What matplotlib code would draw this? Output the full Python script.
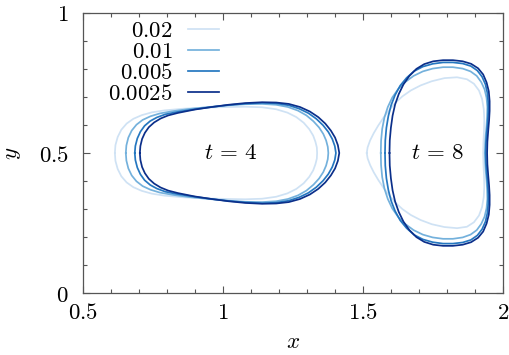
import matplotlib
matplotlib.use("Agg")
import matplotlib.pyplot as plt
from matplotlib.ticker import MultipleLocator, FixedLocator, FuncFormatter

plt.rcParams['mathtext.fontset'] = 'cm'
plt.rcParams['font.family'] = ['DejaVu Serif']

labels = ["0.02", "0.01", "0.005", "0.0025"]
colors = ["#cfe2f4", "#74b1dc", "#2577c0", "#0b2f8a"]

# ---- t = 4 interface shapes (closed curves), one per grid spacing ----
t4_x_002 = [0.615, 0.617, 0.625, 0.638, 0.657, 0.681, 0.711, 0.747, 0.792, 0.860, 0.940, 1.020, 1.080, 1.140,
            1.190, 1.230, 1.262, 1.288, 1.308, 1.322, 1.330, 1.335, 1.336,
            1.335, 1.330, 1.322, 1.308, 1.288, 1.262, 1.230, 1.190, 1.140, 1.080, 1.020, 0.940, 0.860, 0.792,
            0.747, 0.711, 0.681, 0.657, 0.638, 0.625, 0.617]
t4_y_002 = [0.500, 0.528, 0.557, 0.583, 0.605, 0.622, 0.635, 0.645, 0.652, 0.658, 0.662, 0.664, 0.665, 0.663,
            0.656, 0.644, 0.628, 0.608, 0.585, 0.562, 0.540, 0.520, 0.500,
            0.480, 0.460, 0.438, 0.415, 0.392, 0.372, 0.356, 0.344, 0.337, 0.335, 0.336, 0.338, 0.342, 0.348,
            0.355, 0.365, 0.378, 0.395, 0.417, 0.443, 0.472]
t4_x_001 = [0.654, 0.656, 0.663, 0.675, 0.692, 0.714, 0.742, 0.775, 0.820, 0.880, 0.950, 1.020, 1.080, 1.140,
            1.190, 1.232, 1.268, 1.298, 1.323, 1.343, 1.358, 1.368, 1.374, 1.376,
            1.374, 1.368, 1.358, 1.343, 1.323, 1.298, 1.268, 1.232, 1.190, 1.140, 1.080, 1.020, 0.950, 0.880,
            0.820, 0.775, 0.742, 0.714, 0.692, 0.675, 0.663, 0.656]
t4_y_001 = [0.500, 0.527, 0.555, 0.580, 0.601, 0.618, 0.631, 0.641, 0.649, 0.657, 0.664, 0.670, 0.674, 0.675,
            0.672, 0.664, 0.651, 0.634, 0.613, 0.591, 0.568, 0.545, 0.522, 0.500,
            0.478, 0.455, 0.432, 0.409, 0.387, 0.366, 0.349, 0.336, 0.328, 0.325, 0.326, 0.330, 0.336, 0.343,
            0.351, 0.359, 0.369, 0.382, 0.399, 0.420, 0.445, 0.473]
t4_x_0005 = [0.686, 0.688, 0.695, 0.706, 0.721, 0.741, 0.765, 0.795, 0.835, 0.900, 0.960, 1.020, 1.080, 1.140,
             1.190, 1.235, 1.272, 1.305, 1.333, 1.357, 1.376, 1.390, 1.399, 1.403,
             1.399, 1.390, 1.376, 1.357, 1.333, 1.305, 1.272, 1.235, 1.190, 1.140, 1.080, 1.020, 0.960, 0.900,
             0.835, 0.795, 0.765, 0.741, 0.721, 0.706, 0.695, 0.688]
t4_y_0005 = [0.500, 0.525, 0.552, 0.576, 0.597, 0.614, 0.627, 0.638, 0.646, 0.656, 0.664, 0.671, 0.676, 0.679,
             0.677, 0.670, 0.658, 0.642, 0.622, 0.599, 0.575, 0.550, 0.525, 0.500,
             0.475, 0.450, 0.425, 0.401, 0.378, 0.358, 0.342, 0.330, 0.323, 0.321, 0.324, 0.329, 0.336, 0.344,
             0.354, 0.362, 0.373, 0.386, 0.403, 0.424, 0.448, 0.475]
t4_x_00025 = [0.704, 0.706, 0.712, 0.722, 0.736, 0.755, 0.778, 0.805, 0.840, 0.900, 0.960, 1.020, 1.080, 1.140,
              1.190, 1.235, 1.275, 1.310, 1.340, 1.365, 1.385, 1.400, 1.410, 1.415,
              1.410, 1.400, 1.385, 1.365, 1.340, 1.310, 1.275, 1.235, 1.190, 1.140, 1.080, 1.020, 0.960, 0.900,
              0.840, 0.805, 0.778, 0.755, 0.736, 0.722, 0.712, 0.706]
t4_y_00025 = [0.500, 0.525, 0.550, 0.572, 0.592, 0.609, 0.623, 0.634, 0.643, 0.655, 0.664, 0.672, 0.678, 0.681,
              0.680, 0.675, 0.664, 0.648, 0.628, 0.605, 0.580, 0.555, 0.528, 0.500,
              0.472, 0.445, 0.420, 0.395, 0.372, 0.352, 0.336, 0.325, 0.320, 0.319, 0.322, 0.328, 0.336, 0.345,
              0.357, 0.366, 0.377, 0.391, 0.408, 0.428, 0.450, 0.475]

# ---- t = 8 interface shapes ----
t8_x_002 = [1.513, 1.516, 1.525, 1.538, 1.554, 1.572, 1.592, 1.614, 1.640, 1.670, 1.705, 1.745, 1.790, 1.835,
            1.870, 1.895, 1.913, 1.924, 1.930, 1.932, 1.931, 1.929, 1.928,
            1.929, 1.931, 1.932, 1.930, 1.924, 1.913, 1.895, 1.870, 1.835, 1.790, 1.745, 1.705, 1.670, 1.640,
            1.614, 1.592, 1.572, 1.554, 1.538, 1.525, 1.516]
t8_y_002 = [0.500, 0.520, 0.545, 0.571, 0.598, 0.625, 0.652, 0.678, 0.702, 0.723, 0.741, 0.756, 0.767, 0.770,
            0.763, 0.747, 0.723, 0.693, 0.657, 0.620, 0.580, 0.540, 0.500,
            0.460, 0.420, 0.380, 0.343, 0.307, 0.277, 0.253, 0.237, 0.232, 0.236, 0.246, 0.261, 0.279, 0.300,
            0.324, 0.350, 0.377, 0.404, 0.431, 0.457, 0.481]
t8_x_001 = [1.563, 1.564, 1.568, 1.576, 1.588, 1.604, 1.625, 1.650, 1.680, 1.713, 1.748, 1.785, 1.820, 1.855,
            1.883, 1.905, 1.921, 1.933, 1.940, 1.943, 1.942, 1.940, 1.937, 1.935, 1.934,
            1.935, 1.937, 1.940, 1.942, 1.943, 1.940, 1.933, 1.921, 1.905, 1.883, 1.855, 1.820, 1.785, 1.748,
            1.713, 1.680, 1.650, 1.625, 1.604, 1.588, 1.576, 1.568, 1.564]
t8_y_001 = [0.500, 0.543, 0.586, 0.627, 0.664, 0.698, 0.728, 0.753, 0.775, 0.791, 0.801, 0.806, 0.806, 0.801,
            0.791, 0.775, 0.753, 0.727, 0.697, 0.664, 0.630, 0.597, 0.564, 0.532, 0.500,
            0.468, 0.436, 0.403, 0.370, 0.336, 0.303, 0.273, 0.247, 0.225, 0.209, 0.199, 0.194, 0.194, 0.199,
            0.209, 0.225, 0.247, 0.272, 0.302, 0.336, 0.373, 0.414, 0.457]
t8_x_0005 = [1.578, 1.579, 1.583, 1.590, 1.600, 1.614, 1.632, 1.655, 1.682, 1.713, 1.748, 1.785, 1.820, 1.855,
             1.884, 1.907, 1.924, 1.936, 1.943, 1.946, 1.946, 1.944, 1.941, 1.938, 1.937,
             1.938, 1.941, 1.944, 1.946, 1.946, 1.943, 1.936, 1.924, 1.907, 1.884, 1.855, 1.820, 1.785, 1.748,
             1.713, 1.682, 1.655, 1.632, 1.614, 1.600, 1.590, 1.583, 1.579]
t8_y_0005 = [0.500, 0.545, 0.590, 0.632, 0.671, 0.707, 0.740, 0.768, 0.792, 0.808, 0.818, 0.823, 0.823, 0.819,
             0.810, 0.794, 0.772, 0.745, 0.714, 0.680, 0.645, 0.610, 0.575, 0.538, 0.500,
             0.462, 0.425, 0.390, 0.355, 0.320, 0.286, 0.255, 0.228, 0.206, 0.190, 0.181, 0.177, 0.177, 0.182,
             0.192, 0.208, 0.232, 0.260, 0.293, 0.329, 0.368, 0.410, 0.455]
t8_x_00025 = [1.594, 1.595, 1.599, 1.605, 1.614, 1.627, 1.644, 1.665, 1.690, 1.718, 1.750, 1.785, 1.820, 1.855,
              1.885, 1.910, 1.928, 1.940, 1.948, 1.951, 1.951, 1.949, 1.946, 1.943, 1.942,
              1.943, 1.946, 1.949, 1.951, 1.951, 1.948, 1.940, 1.928, 1.910, 1.885, 1.855, 1.820, 1.785, 1.750,
              1.718, 1.690, 1.665, 1.644, 1.627, 1.614, 1.605, 1.599, 1.595]
t8_y_00025 = [0.500, 0.545, 0.590, 0.633, 0.673, 0.710, 0.745, 0.775, 0.800, 0.817, 0.827, 0.831, 0.831, 0.827,
              0.818, 0.802, 0.780, 0.752, 0.720, 0.685, 0.650, 0.615, 0.580, 0.540, 0.500,
              0.460, 0.420, 0.385, 0.350, 0.315, 0.280, 0.248, 0.220, 0.198, 0.182, 0.173, 0.169, 0.169, 0.173,
              0.183, 0.200, 0.225, 0.255, 0.290, 0.327, 0.367, 0.410, 0.455]

t4_curves = [(t4_x_002, t4_y_002), (t4_x_001, t4_y_001), (t4_x_0005, t4_y_0005), (t4_x_00025, t4_y_00025)]
t8_curves = [(t8_x_002, t8_y_002), (t8_x_001, t8_y_001), (t8_x_0005, t8_y_0005), (t8_x_00025, t8_y_00025)]

FS = 16.5

fig = plt.figure(figsize=(5.10, 3.55), dpi=100)
ax = fig.add_axes([0.162, 0.174, 0.825, 0.790])

for (xs, ys), (xs8, ys8), c, lab in zip(t4_curves, t8_curves, colors, labels):
    ax.plot(list(xs) + [xs[0]], list(ys) + [ys[0]], color=c, lw=1.25, label=r'$%s$' % lab,
            solid_joinstyle='round')
    ax.plot(list(xs8) + [xs8[0]], list(ys8) + [ys8[0]], color=c, lw=1.25, solid_joinstyle='round')

ax.text(1.03, 0.5, r'$t\,=\,4$', fontsize=FS, ha='center', va='center')
ax.text(1.765, 0.5, r'$t\,=\,8$', fontsize=FS, ha='center', va='center')

ax.set_xlim(0.5, 2.0)
ax.set_ylim(0.0, 1.0)
ax.xaxis.set_major_locator(FixedLocator([0.5, 1.0, 1.5, 2.0]))
ax.yaxis.set_major_locator(FixedLocator([0.0, 0.5, 1.0]))
ax.xaxis.set_minor_locator(MultipleLocator(0.1))
ax.yaxis.set_minor_locator(MultipleLocator(0.1))
fmt = FuncFormatter(lambda v, p: r'$%g$' % round(v, 3))
ax.xaxis.set_major_formatter(fmt)
ax.yaxis.set_major_formatter(fmt)
ax.tick_params(which='both', direction='in', top=True, right=True, colors='#555555', labelcolor='black',
               labelsize=FS)
ax.tick_params(which='major', length=5, width=0.8)
ax.tick_params(which='minor', length=3, width=0.8)
ax.tick_params(axis='x', pad=6)
ax.tick_params(axis='y', pad=10)
for s in ax.spines.values():
    s.set_color('#555555')
    s.set_linewidth(0.9)

ax.set_xlabel(r'$x$', fontsize=FS, labelpad=5)
ax.set_ylabel(r'$y$', fontsize=FS, labelpad=11)

ax.legend(loc='upper left', bbox_to_anchor=(0.045, 1.0), frameon=False, markerfirst=False,
          fontsize=FS, handlelength=1.35, handletextpad=0.65, labelspacing=-0.04, borderaxespad=0.0,
          borderpad=0.3)

fig.savefig('out.png', dpi=100)
